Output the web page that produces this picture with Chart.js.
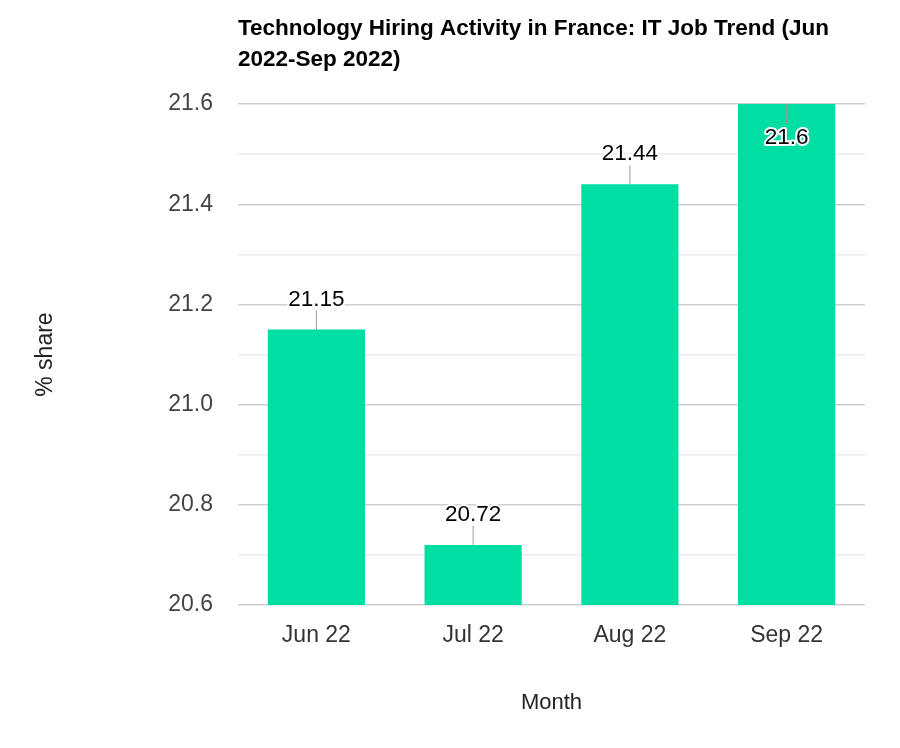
<!DOCTYPE html>
<html>
<head>
<meta charset="utf-8">
<script src="https://cdn.jsdelivr.net/npm/chart.js@4.4.1/dist/chart.umd.min.js"></script>
<style>
  html, body { margin: 0; padding: 0; background: #fff; }
  #wrap { width: 900px; height: 748px; }
</style>
</head>
<body>
<div id="wrap"><canvas id="chart" width="900" height="748"></canvas></div>
<script>
// ── Dados ─────────────────────────────────────────────
const MONTHS = ['Jun 22', 'Jul 22', 'Aug 22', 'Sep 22'];
const SHARE  = [21.15, 20.72, 21.44, 21.6];
const Y_MIN  = 20.6;
const Y_MAX  = 21.6;

const FONT       = "'Liberation Sans', Arial, sans-serif";
const BAR_COLOR  = '#00dea4';
const GRID_MAJOR = '#cfcfcf';
const GRID_MINOR = '#ececec';

// ── Rótulos com linha de chamada ──────────────────────
const barLabels = {
  id: 'barLabels',
  afterDatasetsDraw(chart) {
    const { ctx, chartArea } = chart;
    const meta = chart.getDatasetMeta(0);
    ctx.save();
    ctx.font = '22.5px ' + FONT;
    ctx.textAlign = 'center';
    ctx.textBaseline = 'middle';
    meta.data.forEach((bar, i) => {
      const x = bar.x, top = bar.y;
      const inside = top - 45 < chartArea.top;
      const lineEnd = inside ? top + 20 : top - 19;
      const ty = inside ? top + 34 : top - 30;
      ctx.strokeStyle = '#9a9a9a';
      ctx.lineWidth = 1;
      ctx.beginPath();
      ctx.moveTo(x, top);
      ctx.lineTo(x, lineEnd);
      ctx.stroke();
      const txt = String(SHARE[i]);
      ctx.lineJoin = 'round';
      ctx.strokeStyle = '#ffffff';
      ctx.lineWidth = 4;
      ctx.strokeText(txt, x, ty);
      ctx.fillStyle = '#000000';
      ctx.fillText(txt, x, ty);
    });
    ctx.restore();
  },
};

new Chart(document.getElementById('chart'), {
  type: 'bar',
  data: {
    labels: MONTHS,
    datasets: [{
      data: SHARE,
      backgroundColor: BAR_COLOR,
      borderWidth: 0,
      categoryPercentage: 1,
      barPercentage: 0.62,
    }],
  },
  options: {
    responsive: false,
    animation: false,
    layout: { padding: { left: 28, right: 35, top: 0, bottom: 28 } },
    plugins: {
      legend: { display: false },
      tooltip: { enabled: false },
      title: {
        display: true,
        fullSize: false,
        align: 'start',
        text: ['Technology Hiring Activity in France: IT Job Trend (Jun', '2022-Sep 2022)'],
        color: '#000',
        font: { family: FONT, size: 22.5, weight: 'bold', lineHeight: 1.38 },
        padding: { top: 13, bottom: 29 },
      },
    },
    scales: {
      x: {
        grid: { display: false },
        border: { display: false },
        ticks: { color: '#333', font: { family: FONT, size: 23 }, padding: 9 },
        title: { display: true, text: 'Month', color: '#222', font: { family: FONT, size: 22 } },
        afterFit(scale) { scale.height = 115; },
      },
      y: {
        min: Y_MIN,
        max: Y_MAX,
        border: { display: false },
        grid: {
          drawTicks: false,
          lineWidth: 1.5,
          color: ctx => (ctx.index % 2 === 0 ? GRID_MAJOR : GRID_MINOR),
        },
        ticks: {
          stepSize: 0.1,
          padding: 25,
          color: '#444',
          font: { family: FONT, size: 23 },
          callback: (v, i) => (i % 2 === 0 ? Number(v).toFixed(1) : ''),
        },
        title: { display: true, text: '% share', color: '#222', font: { family: FONT, size: 23 } },
        afterFit(scale) { scale.width = 210; },
      },
    },
  },
  plugins: [barLabels],
});
</script>
</body>
</html>
